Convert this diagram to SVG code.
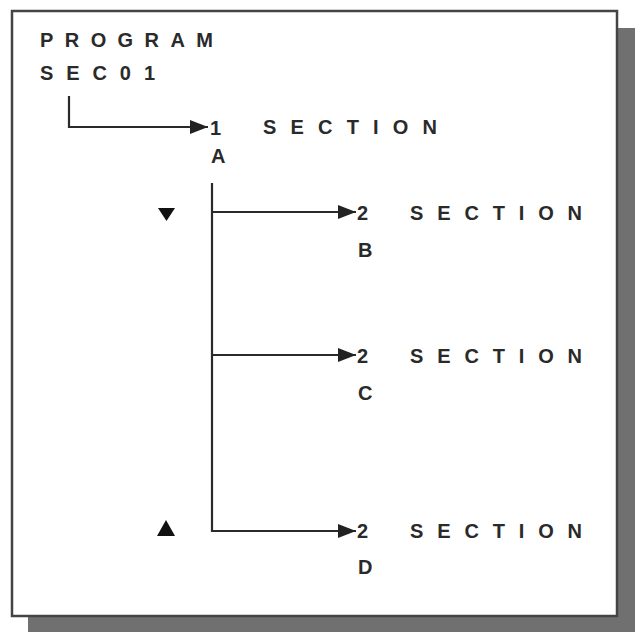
<svg xmlns="http://www.w3.org/2000/svg" width="635" height="632" viewBox="0 0 635 632">
  <defs>
    <marker id="arr" viewBox="0 0 10 10" refX="10" refY="5" markerWidth="18" markerHeight="14" markerUnits="userSpaceOnUse" orient="auto" preserveAspectRatio="none">
      <path d="M0,0 L10,5 L0,10 Z" fill="#222"/>
    </marker>
    <style>
      text { font-family: "Liberation Sans", Arial, sans-serif; font-weight: bold; font-size: 20px; fill: #2a2a2a; }
      .conn { fill: none; stroke: #2a2a2a; stroke-width: 2.2; }
    </style>
  </defs>
  <rect x="0" y="0" width="635" height="632" fill="#ffffff"/>
  <rect x="28" y="28" width="607" height="604" fill="#707070"/>
  <rect x="12" y="11" width="605" height="605" fill="#ffffff" stroke="#444" stroke-width="2.5"/>

  <g id="connectors">
    <path class="conn" d="M69,96 V127 H208" marker-end="url(#arr)"/>
    <path class="conn" d="M212,183 V531 H356" marker-end="url(#arr)"/>
    <path class="conn" d="M212,212 H356" marker-end="url(#arr)"/>
    <path class="conn" d="M212,355 H356" stroke-width="3" marker-end="url(#arr)"/>
  </g>

  <g id="program">
    <text x="40" y="47" textLength="173" lengthAdjust="spacing">PROGRAM</text>
    <text x="40" y="80" textLength="115" lengthAdjust="spacing">SEC01</text>
  </g>
  <g id="sectionA">
    <text x="210" y="135">1</text>
    <text x="263" y="134" textLength="174" lengthAdjust="spacing">SECTION</text>
    <text x="211" y="163">A</text>
  </g>
  <g id="sectionB">
    <text x="357" y="220">2</text>
    <text x="410" y="220" textLength="172" lengthAdjust="spacing">SECTION</text>
    <text x="358" y="257">B</text>
  </g>
  <g id="sectionC">
    <text x="357" y="363">2</text>
    <text x="410" y="363" textLength="172" lengthAdjust="spacing">SECTION</text>
    <text x="358" y="400">C</text>
  </g>
  <g id="sectionD">
    <text x="357" y="538">2</text>
    <text x="410" y="538" textLength="172" lengthAdjust="spacing">SECTION</text>
    <text x="358" y="574">D</text>
  </g>
  <g id="marks" fill="#111">
    <polygon points="158,208 175,208 166.5,221"/>
    <polygon points="157,536 175,536 166,520"/>
  </g>
</svg>
